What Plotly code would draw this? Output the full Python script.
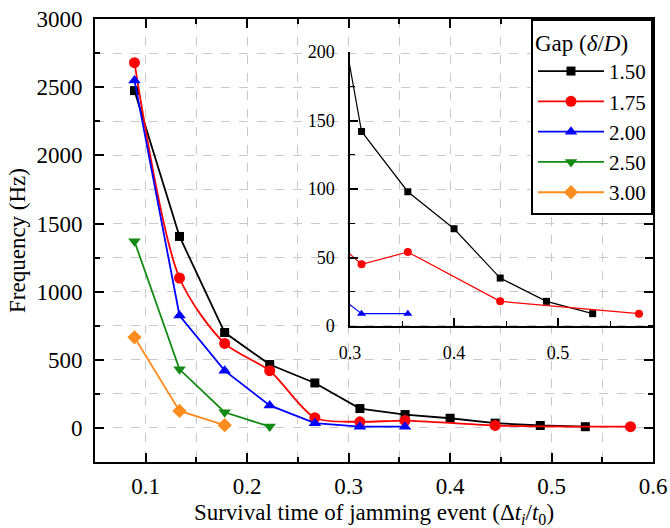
import plotly.graph_objects as go

# ---- data ----
x_all = [0.0889, 0.1333, 0.1778, 0.2222, 0.2667, 0.3111, 0.3556, 0.4000, 0.4444, 0.4889, 0.5333, 0.5778]

gap_labels = ["1.50", "1.75", "2.00", "2.50", "3.00"]

x_150 = x_all[:11]
y_150 = [2475, 1405, 700, 465, 330, 142, 98, 71, 35, 18, 9]

x_175 = [0.0889, 0.1333, 0.1778, 0.2222, 0.2667, 0.3111, 0.3556, 0.4444, 0.5778]
y_175 = [2680, 1100, 620, 420, 75, 45, 54, 18, 9]

x_200 = x_all[:7]
y_200 = [2550, 825, 420, 165, 35, 9, 9]

x_250 = x_all[:4]
y_250 = [1370, 430, 115, 10]

x_300 = x_all[:3]
y_300 = [665, 125, 20]

colors = ["#000000", "#ff0000", "#0000ff", "#138a13", "#ff8c1e"]
symbols = ["square", "circle", "triangle-up", "triangle-down", "diamond"]
msize = [9, 11, 11, 11, 11]
msize_in = [7, 8, 8, 8, 8]

series_x = [x_150, x_175, x_200, x_250, x_300]
series_y = [y_150, y_175, y_200, y_250, y_300]

FONT = "Liberation Serif, Times New Roman, serif"

def F(size):
    return dict(family=FONT, size=size, color="black")

fig = go.Figure()

for i in range(5):
    fig.add_trace(go.Scatter(
        x=series_x[i], y=series_y[i], mode="lines+markers", name=gap_labels[i],
        line=dict(color=colors[i], width=1.8,
                  shape="spline" if i == 1 else "linear", smoothing=0.8),
        marker=dict(symbol=symbols[i], size=msize[i], color=colors[i]),
        xaxis="x", yaxis="y", showlegend=True,
    ))

# inset traces
for i in range(3):
    fig.add_trace(go.Scatter(
        x=series_x[i], y=series_y[i], mode="lines+markers", name=gap_labels[i],
        line=dict(color=colors[i], width=1.2),
        marker=dict(symbol=symbols[i], size=msize_in[i], color=colors[i]),
        xaxis="x2", yaxis="y2", showlegend=False,
    ))

grid_col = "#c9c9c9"

# main plot area pixels: x 95..653, y 19..462
L, R, T, B = 95, 17, 19, 66
W, H = 670, 528
pw = W - L - R
ph = H - T - B

ix0, ix1 = 350, 653
iy0, iy1 = 52, 326
dx = [(ix0 - L) / pw, (ix1 - L) / pw]
dy = [(H - B - iy1) / ph, (H - B - iy0) / ph]

fig.update_layout(
    width=W, height=H,
    margin=dict(l=L, r=R, t=T, b=B, autoexpand=False),
    paper_bgcolor="white",
    plot_bgcolor="rgba(0,0,0,0)",
    font=F(23),
    xaxis=dict(
        domain=[0, 1], range=[0.05, 0.6], tick0=0, dtick=0.1,
        tickformat=".1f",
        ticks="inside", ticklen=9, tickwidth=1.8, tickcolor="black",
        showline=True, linecolor="black", linewidth=2, mirror="ticks",
        showgrid=True, gridcolor=grid_col, griddash="dash", gridwidth=1,
        minor=dict(dtick=0.05, tick0=0, ticks="inside", ticklen=5, tickwidth=1.5,
                   tickcolor="black", showgrid=True, gridcolor=grid_col,
                   griddash="dash", gridwidth=1),
        zeroline=False,
        tickfont=F(23),
        ticklabelstandoff=2,
        title=dict(text="Survival time of jamming event (Δ<i>t</i><sub><i>i</i></sub>/<i>t</i><sub>0</sub>)",
                   font=F(23), standoff=6),
    ),
    yaxis=dict(
        domain=[0, 1], range=[-250, 3000.5], tick0=0, dtick=500,
        ticks="inside", ticklen=9, tickwidth=1.8, tickcolor="black",
        showline=True, linecolor="black", linewidth=2, mirror="ticks",
        showgrid=True, gridcolor=grid_col, griddash="dash", gridwidth=1,
        minor=dict(dtick=250, tick0=0, ticks="inside", ticklen=5, tickwidth=1.5,
                   tickcolor="black", showgrid=True, gridcolor=grid_col,
                   griddash="dash", gridwidth=1),
        zeroline=False,
        tickfont=F(23),
        ticklabelstandoff=6,
        title=dict(text="Frequency (Hz)", font=F(23), standoff=4),
    ),
    xaxis2=dict(
        domain=dx, anchor="y2", range=[0.3, 0.5913], tick0=0, dtick=0.1,
        tickformat=".1f",
        ticks="inside", ticklen=8, tickwidth=1.5, tickcolor="black",
        showline=True, linecolor="black", linewidth=1.5, mirror=False,
        showgrid=False, zeroline=False,
        minor=dict(dtick=0.05, tick0=0, ticks="inside", ticklen=5, tickwidth=1.2,
                   tickcolor="black", showgrid=False),
        tickfont=F(18),
        ticklabelstandoff=10,
    ),
    yaxis2=dict(
        domain=dy, anchor="x2", range=[0, 200], tick0=0, dtick=50,
        ticks="inside", ticklen=8, tickwidth=1.5, tickcolor="black",
        showline=True, linecolor="black", linewidth=1.5, mirror="ticks",
        showgrid=False, zeroline=False,
        minor=dict(dtick=25, tick0=0, ticks="inside", ticklen=5, tickwidth=1.2,
                   tickcolor="black", showgrid=False),
        tickfont=F(18),
        ticklabelstandoff=10,
    ),
    legend=dict(
        x=1.0, y=1.0, xanchor="right", yanchor="top",
        bgcolor="white", bordercolor="black", borderwidth=2,
        font=F(21), itemwidth=66, tracegroupgap=0,
        title=dict(text="Gap (<i>δ</i>/<i>D</i>)", font=F(23)),
    ),
)

fig.write_html("out.html")
